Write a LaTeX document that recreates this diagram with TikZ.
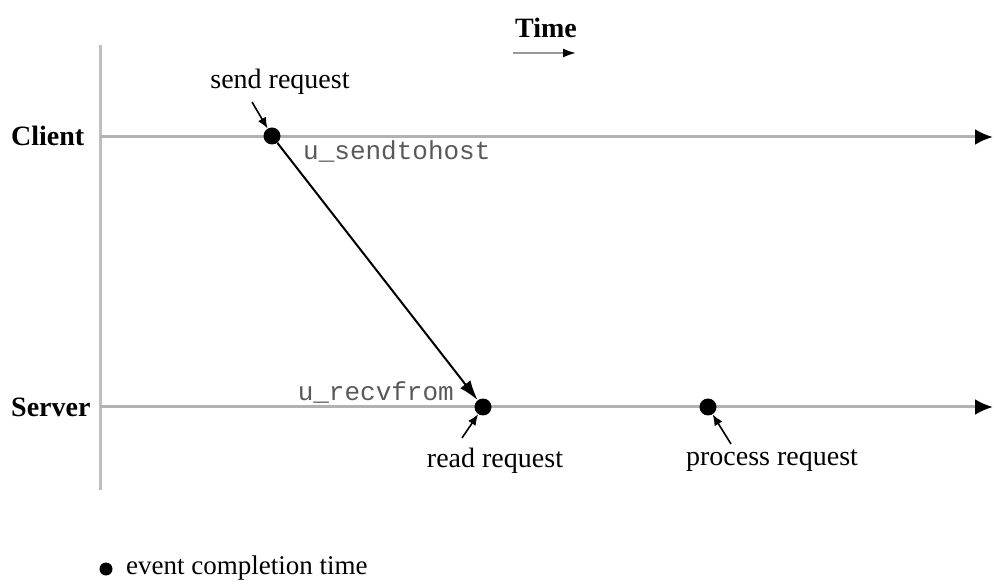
\documentclass[tikz,border=0pt]{standalone}
\usepackage{fontspec}
\setmainfont{Liberation Serif}
\setmonofont{Liberation Mono}
\usetikzlibrary{arrows.meta}
\begin{document}
\begin{tikzpicture}[x=1pt,y=-1pt,
  lbl/.style={font=\fontsize{28}{30}\selectfont, inner sep=0pt},
  blbl/.style={font=\fontsize{28}{30}\selectfont\bfseries, inner sep=0pt},
  mono/.style={font=\fontsize{26}{28}\selectfont\ttfamily, text=black!65, inner sep=0pt},
  axis/.style={draw=black!30, line width=3pt, -{Latex[color=black,length=18pt,width=16pt]}},
  event/.style={circle, fill=black, minimum size=17pt, inner sep=0pt},
  pointer/.style={draw=black, line width=1.6pt, -{Latex[length=11pt,width=9pt]}},
  msg/.style={draw=black, line width=2pt, -{Latex[length=20pt,width=13pt]}}]
\useasboundingbox (0,0) rectangle (994,585);
\fill[white] (0,0) rectangle (994,585);
% axes
\coordinate (vtop) at (100,45);
\coordinate (vbot) at (100,490);
\draw[draw=black!25, line width=3pt] (vtop) -- (vbot);
\coordinate (cstart) at (100,137);
\coordinate (cend) at (993,137);
\coordinate (sstart) at (100,407);
\coordinate (send) at (993,407);
\draw[axis] (cstart) -- (cend);
\draw[axis] (sstart) -- (send);
% labels
\node[blbl, anchor=west] (client) at (11,136) {Client};
\node[blbl, anchor=west] (server) at (11,407) {Server};
\node[blbl] (time) at (546,28) {Time};
\coordinate (t0) at (513,53);
\coordinate (t1) at (576,53);
\draw[draw=black!40, line width=2pt, -{Latex[color=black,length=13pt,width=9pt]}] (t0) -- (t1);
% events
\node[event] (e1) at (272,136) {};
\node[event] (e2) at (483,407) {};
\node[event] (e3) at (708,407) {};
\draw[msg] (e1) -- (e2);
\node[mono, anchor=west] (sendto) at (303,151) {u\_sendtohost};
\node[mono, anchor=east] (recv) at (454,392) {u\_recvfrom};
% event labels
\node[lbl] (sreq) at (280,82) {send request};
\coordinate (p1a) at (252,102);
\draw[pointer] (p1a) -- (e1);
\node[lbl] (rreq) at (495,461) {read request};
\coordinate (p2a) at (462,438);
\draw[pointer] (p2a) -- (e2);
\node[lbl] (preq) at (772,461) {process request};
\coordinate (p3a) at (731,444);
\draw[pointer] (p3a) -- (e3);
% legend
\node[event, minimum size=13pt] (legdot) at (106,569) {};
\node[lbl, anchor=west, font=\fontsize{27}{29}\selectfont] (legtxt) at (126,568) {event completion time};
\end{tikzpicture}
\end{document}
